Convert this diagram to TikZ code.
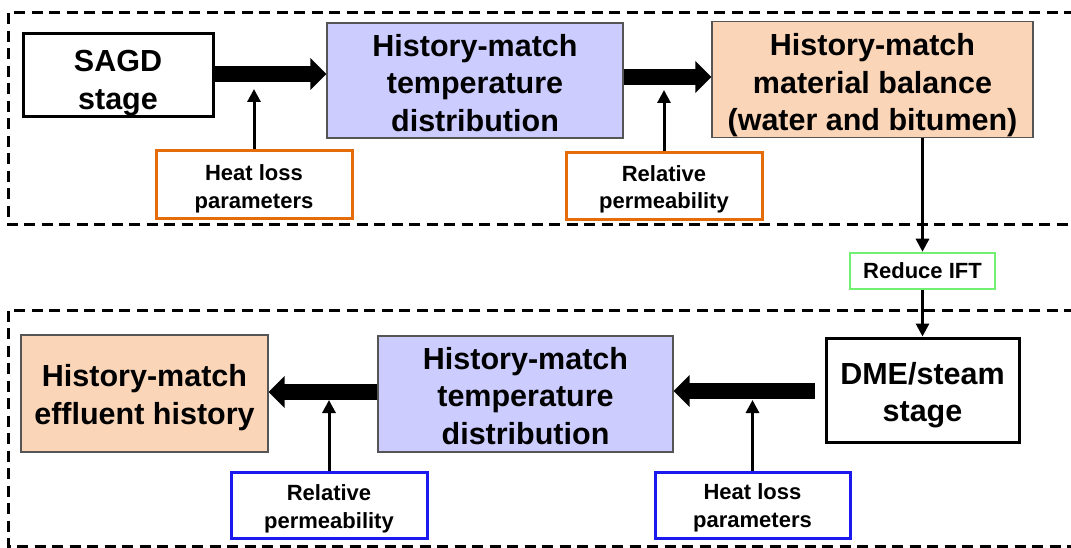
\documentclass[tikz,border=0pt]{standalone}
\usepackage{fontspec}
\setmainfont{Liberation Sans}
\usetikzlibrary{arrows.meta}
\definecolor{lav}{HTML}{CCCCFF}
\definecolor{peach}{HTML}{FBD5B8}
\definecolor{orng}{HTML}{E46C0A}
\definecolor{blu}{HTML}{1A1AEE}
\definecolor{grn}{HTML}{72F072}
\definecolor{edge}{HTML}{555555}
\begin{document}
\begin{tikzpicture}[x=1pt,y=-1pt,
  bigtxt/.style={font=\bfseries\fontsize{30.5}{37.5}\selectfont},
  smalltxt/.style={font=\bfseries\fontsize{22}{27.5}\selectfont},
  base/.style={inner sep=0pt, align=center},
  stagebox/.style={base, bigtxt, draw=black, line width=3pt, fill=white},
  matchblue/.style={base, bigtxt, draw=edge, line width=1.2pt, fill=lav},
  matchpeach/.style={base, bigtxt, draw=edge, line width=1.2pt, fill=peach},
  inorange/.style={base, smalltxt, draw=orng, line width=3pt, fill=white},
  inblue/.style={base, smalltxt, draw=blu, line width=3pt, fill=white},
  ingreen/.style={base, smalltxt, draw=grn, line width=2.5pt, fill=white},
  bigarrow/.style={line width=16pt, -{Triangle[length=16pt,width=31pt]}},
  smallarrow/.style={line width=3pt, -{Triangle[length=13pt,width=13pt]}},
  zone/.style={line width=3pt, dash pattern=on 11pt off 6.5pt}
]
\useasboundingbox (0,0) rectangle (1071,548);

% dashed zones
\draw[zone] (1075,13) -- (8,13) -- (8,225) -- (1075,225);
\draw[zone] (1075,310) -- (8,310) -- (8,546.5) -- (1075,546.5);

% top row
\node[stagebox, minimum width=190pt, minimum height=83pt, text height=73.7pt] (sagd) at (118,75.5) {SAGD\\stage};
\node[matchblue, minimum width=296pt, minimum height=115pt, text height=102.2pt] (hmt1) at (475,80.5) {History-match\\temperature\\distribution};
\node[matchpeach, minimum width=321pt, minimum height=115pt, text height=109pt] (mb) at (872.5,79.5) {History-match\\material balance\\(water and bitumen)};
\node[inorange, minimum width=196pt, minimum height=68pt, text height=51.5pt] (hl1) at (254,185) {Heat loss\\parameters};
\node[inorange, minimum width=196pt, minimum height=67pt, text height=49.5pt] (rp1) at (664,186.5) {Relative\\permeability};

% middle
\node[ingreen, minimum width=145pt, minimum height=36pt] (rift) at (922.5,271) {Reduce IFT};

% bottom row
\node[stagebox, minimum width=193pt, minimum height=104pt, text height=69.7pt] (dme) at (922.5,390) {DME/steam\\stage};
\node[matchblue, minimum width=295pt, minimum height=116pt, text height=101.2pt] (hmt2) at (525.5,394) {History-match\\temperature\\distribution};
\node[matchpeach, minimum width=247pt, minimum height=117pt, text height=67.7pt] (eff) at (144.5,393.5) {History-match\\effluent history};
\node[inblue, minimum width=196pt, minimum height=66pt, text height=51.5pt] (rp2) at (329,505) {Relative\\permeability};
\node[inblue, minimum width=195pt, minimum height=66pt, text height=49.5pt] (hl2) at (752.5,505) {Heat loss\\parameters};

% helper coordinates
\coordinate (a1) at ([yshift=1.5pt]sagd.east);
\coordinate (a2) at ([yshift=3.5pt]hmt1.east);
\coordinate (a3) at ([xshift=-10pt,yshift=-1pt]dme.west);
\coordinate (a4) at ([yshift=2pt]hmt2.west);
\coordinate (t1) at (254,89);
\coordinate (t2) at (664,90);
\coordinate (t3) at (329,400);
\coordinate (t4) at (752.5,400);

% thick arrows
\draw[bigarrow] (a1) -- (a1 -| hmt1.west);
\draw[bigarrow] (a2) -- (a2 -| mb.west);
\draw[bigarrow] (a3) -- (a3 -| hmt2.east);
\draw[bigarrow] (a4) -- (a4 -| eff.east);

% small arrows
\draw[smallarrow] (hl1.north) -- (t1);
\draw[smallarrow] (rp1.north) -- (t2);
\draw[smallarrow] (rp2.north) -- (t3);
\draw[smallarrow] (hl2.north) -- (t4);
\draw[smallarrow] (mb.south -| rift.north) -- (rift.north);
\draw[smallarrow] (rift.south) -- (dme.north);
\end{tikzpicture}
\end{document}
